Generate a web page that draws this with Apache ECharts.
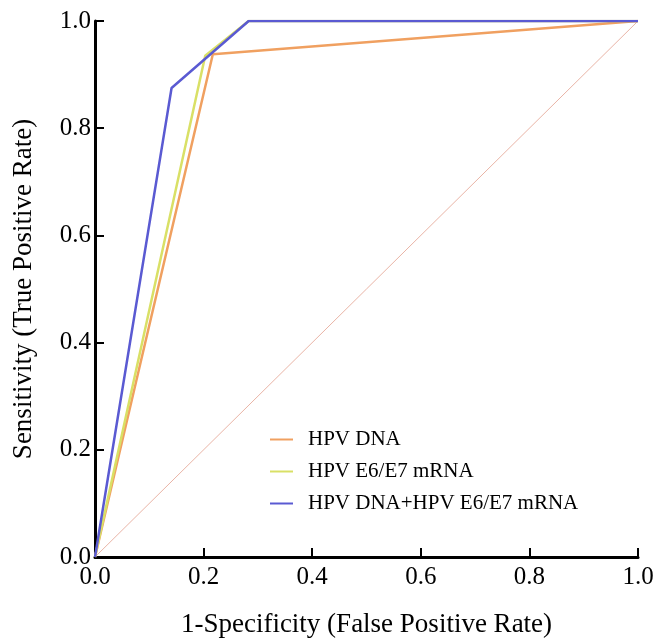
<!DOCTYPE html>
<html>
<head>
<meta charset="utf-8">
<script src="https://cdn.jsdelivr.net/npm/echarts@6/dist/echarts.min.js"></script>
<style>html,body{margin:0;padding:0;background:#fff}#c{width:659px;height:643px}</style>
</head>
<body>
<div id="c"></div>
<script>
var seriesNames = ['HPV DNA', 'HPV E6/E7 mRNA', 'HPV DNA+HPV E6/E7 mRNA'];
var hpvDna = [[0, 0], [0.217, 0.938], [1, 1]];
var hpvMrna = [[0, 0], [0.203, 0.935], [0.283, 1], [1, 1]];
var hpvCombined = [[0, 0], [0.141, 0.875], [0.283, 1], [1, 1]];
var reference = [[0, 0], [1, 1]];
var xTicks = ['0.0', '0.2', '0.4', '0.6', '0.8', '1.0'];
var yTicks = ['0.0', '0.2', '0.4', '0.6', '0.8', '1.0'];
var xTitle = '1-Specificity (False Positive Rate)';
var yTitle = 'Sensitivity (True Positive Rate)';

var font = '"Liberation Serif", "Times New Roman", serif';
var chart = echarts.init(document.getElementById('c'), null, {renderer: 'canvas'});
function axisCommon(name, gap, ticks) {
  return {
    type: 'value', min: 0, max: 1, interval: 0.2,
    name: name, nameLocation: 'middle', nameGap: gap,
    nameTextStyle: {fontFamily: font, fontSize: 27, color: '#000'},
    axisLine: {show: true, onZero: false, lineStyle: {color: '#000', width: 3}},
    axisTick: {show: true, inside: true, length: 9, lineStyle: {color: '#000', width: 2}},
    axisLabel: {fontFamily: font, fontSize: 25, color: '#000', margin: 8,
      formatter: function (v) { return ticks[Math.round(v / 0.2)]; }},
    splitLine: {show: false}
  };
}
var xa = axisCommon(xTitle, 54, xTicks);
var ya = axisCommon(yTitle, 58, yTicks);
ya.axisLabel.margin = 4;
chart.setOption({
  animation: false,
  grid: {left: 95, top: 21, right: 21, bottom: 86, containLabel: false},
  xAxis: xa,
  yAxis: ya,
  legend: {
    data: seriesNames,
    orient: 'vertical', left: 265, top: 424,
    itemWidth: 23, itemHeight: 10, itemGap: 11,
    icon: 'path://M0,4 L23,4 L23,6 L0,6 Z',
    textStyle: {fontFamily: font, fontSize: 21, color: '#000', padding: [0, 0, 0, 10]}
  },
  series: [
    {type: 'line', name: 'ref', data: reference, symbol: 'none', silent: true,
      lineStyle: {color: '#e9b4a6', width: 1}, z: 1},
    {type: 'line', name: seriesNames[0], data: hpvDna, symbol: 'none',
      color: '#f0a060', lineStyle: {color: '#f0a060', width: 2.5}, z: 2},
    {type: 'line', name: seriesNames[1], data: hpvMrna, symbol: 'none',
      color: '#d9e066', lineStyle: {color: '#d9e066', width: 2.5}, z: 3},
    {type: 'line', name: seriesNames[2], data: hpvCombined, symbol: 'none',
      color: '#5a5ad2', lineStyle: {color: '#5a5ad2', width: 2.5}, z: 4}
  ]
});
</script>
</body>
</html>
